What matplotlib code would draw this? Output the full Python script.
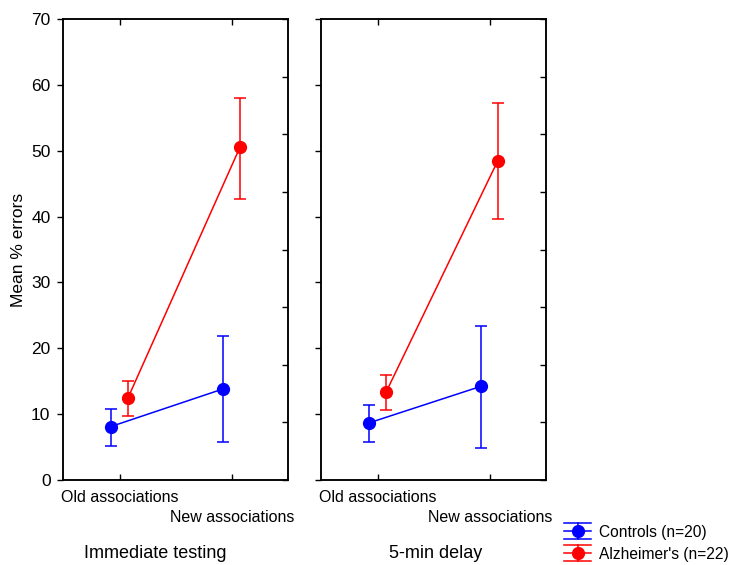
import matplotlib.pyplot as plt
import numpy as np
from matplotlib.legend_handler import HandlerBase
from matplotlib.lines import Line2D

plt.rcParams['font.family'] = ['Liberation Sans', 'DejaVu Sans']

# Dane
conditions = ['Old associations', 'New associations']
panels = ['Immediate testing', '5-min delay']
groups = ['Controls (n=20)', "Alzheimer's (n=22)"]
colors = ['#0000ff', '#ff0000']

# srednie [panel][grupa][warunek]
means = [
    [[8.1, 13.8], [12.45, 50.5]],
    [[8.65, 14.2], [13.3, 48.5]],
]
err_low = [
    [[5.2, 5.7], [9.7, 42.7]],
    [[5.8, 4.9], [10.6, 39.6]],
]
err_high = [
    [[10.8, 21.8], [15.0, 58.0]],
    [[11.4, 23.4], [15.9, 57.3]],
]
offsets = [-0.085, 0.07]


class HandlerEB(HandlerBase):
    # uchwyt legendy: znacznik z liniami nad i pod
    def create_artists(self, legend, orig, xd, yd, width, height, fontsize, trans):
        c = orig.get_color()
        cy = height / 2 - yd
        x0, x1 = -xd, -xd + width
        xm = (x0 + x1) / 2
        d = 5.8
        arts = []
        for dy in (-d, 0, d):
            arts.append(Line2D([x0, x1], [cy + dy] * 2, color=c, lw=1.1))
        arts.append(Line2D([xm, xm], [cy - d, cy + d], color=c, lw=1.1))
        arts.append(Line2D([xm], [cy], color=c, marker='o', markersize=8.5, lw=0))
        for a in arts:
            a.set_transform(trans)
        return arts


fig = plt.figure(figsize=(7.35, 5.65), dpi=100)
W, H = 735, 565
ax_rects = [(63, 19, 288, 480), (321, 19, 546, 480)]
title_x = [0.41, 0.51]

for p, (x0, y0, x1, y1) in enumerate(ax_rects):
    ax = fig.add_axes([x0 / W, 1 - y1 / H, (x1 - x0) / W, (y1 - y0) / H])
    x = np.arange(len(conditions))
    for g in range(len(groups)):
        m = np.array(means[p][g])
        lo = m - np.array(err_low[p][g])
        hi = np.array(err_high[p][g]) - m
        ax.errorbar(x + offsets[g], m, yerr=[lo, hi], color=colors[g],
                    marker='o', markersize=8.5, capsize=4.3, lw=1.1,
                    elinewidth=1.1, capthick=1.1)
    ax.set_xlim(-0.51, 1.5)
    ax.set_ylim(0, 70)
    ax.set_yticks(np.arange(0, 71, 10))
    if p == 0:
        ax.set_ylabel('Mean % errors', fontsize=12.5)
        ax.yaxis.set_label_coords(-0.165, 0.5)
        ax.tick_params(axis='y', labelsize=12.5, pad=5)
    else:
        ax.tick_params(axis='y', labelleft=False)
    ax.tick_params(axis='y', direction='out', length=4, width=1)
    ax.set_xticks(x)
    ax.set_xticklabels([])
    ax.tick_params(axis='x', direction='in', length=4, width=1, top=True)
    for i, lab in enumerate(conditions):
        ax.annotate(lab, xy=(i, 0), xycoords=('data', 'axes fraction'),
                    xytext=(0, -17 - 20 * i), textcoords='offset pixels',
                    ha='center', va='center', fontsize=11.5)
    ax.text(title_x[p], -(554 - 480) / (y1 - y0), panels[p],
            transform=ax.transAxes, ha='center', va='center', fontsize=13)
    ax2 = ax.twinx()
    ax2.set_ylim(0, 70)
    ax2.set_yticks(np.linspace(0, 70, 9))
    ax2.set_yticklabels([])
    ax2.tick_params(axis='y', direction='in', length=4, width=1)
    for a in (ax, ax2):
        for s in a.spines.values():
            s.set_linewidth(1.1)

proxies = [Line2D([], [], color=c) for c in colors]
fig.legend(proxies, groups, loc='center left',
           bbox_to_anchor=(564 / W, 1 - 543 / H),
           frameon=False, fontsize=11.2, handlelength=1.75, borderpad=0.0,
           borderaxespad=0.0, labelspacing=0.45, handletextpad=0.5,
           handler_map={Line2D: HandlerEB()})

fig.savefig('out.png', dpi=100)
